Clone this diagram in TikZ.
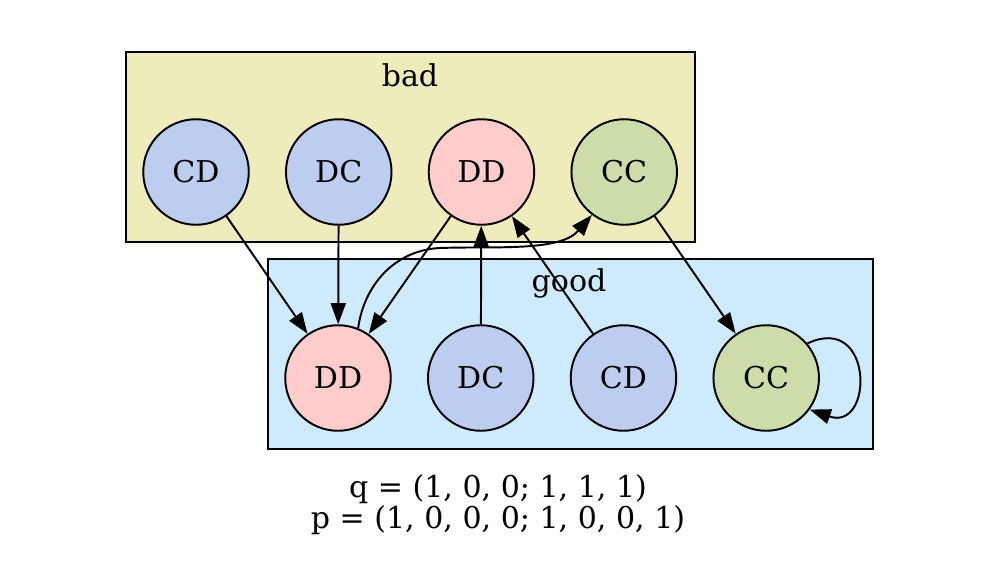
\documentclass[tikz,border=0pt]{standalone}
\usepackage{fontspec}
\setmainfont{DejaVu Serif}
\usetikzlibrary{arrows.meta,positioning}
\definecolor{badfill}{RGB}{238,236,186}
\definecolor{goodfill}{RGB}{205,235,253}
\definecolor{blueish}{RGB}{189,205,239}
\definecolor{pinkish}{RGB}{255,204,204}
\definecolor{greenish}{RGB}{204,221,170}
\tikzset{
state/.style = {draw, circle, line width=1pt, minimum size=1.9cm, inner sep=0pt},
cd/.style = {state, fill=blueish},
dd/.style = {state, fill=pinkish},
cc/.style = {state, fill=greenish},
cluster/.style = {draw, line width=1pt},
edge/.style = {->, line width=1pt}
}
\begin{document}
\begin{tikzpicture}[x=0.018cm, y=-0.018cm, node distance=2.57cm, >={Triangle[length=3.8mm,width=2.7mm]}, font=\fontsize{15.4pt}{14.5pt}\selectfont]
  \useasboundingbox (0,0) rectangle (1000,573);
  % clusters
  \draw [cluster, fill=badfill]  (126,52)  rectangle (695,242);
  \draw [cluster, fill=goodfill] (268,259) rectangle (873,449);
  \node (badlabel)  at (410,75)  {bad};
  \node (goodlabel) at (569,283) {good};

  % bad states
  \node [cd]               (bCD) at (196,172) {CD};
  \node [cd, right of=bCD] (bDC) {DC};
  \node [dd, right of=bDC] (bDD) {DD};
  \node [cc, right of=bDD] (bCC) {CC};

  % good states
  \node [dd]               (gDD) at (338,378) {DD};
  \node [cd, right of=gDD] (gDC) {DC};
  \node [cd, right of=gDC] (gCD) {CD};
  \node [cc, right of=gCD] (gCC) {CC};

  \draw [edge] (bCD) -- (gDD);
  \draw [edge] (bDC) -- (gDD);
  \draw [edge] (bDD) -- (gDD);
  \draw [edge] (gDD.68) .. controls (364,285) and (395,250) .. (440,248)
                        .. controls (495,246) and (560,252) .. (bCC.233);
  \draw [edge] (gDC) -- (bDD);
  \draw [edge] (gCD) -- (bDD);
  \draw [edge] (bCC) -- (gCC);
  \draw [edge] (gCC.40) .. controls (874,312) and (874,432) .. (gCC.-36);

  \node [align=center] (params) at (498,505) {q = (1, 0, 0; 1, 1, 1)\\p = (1, 0, 0, 0; 1, 0, 0, 1)};
\end{tikzpicture}
\end{document}
